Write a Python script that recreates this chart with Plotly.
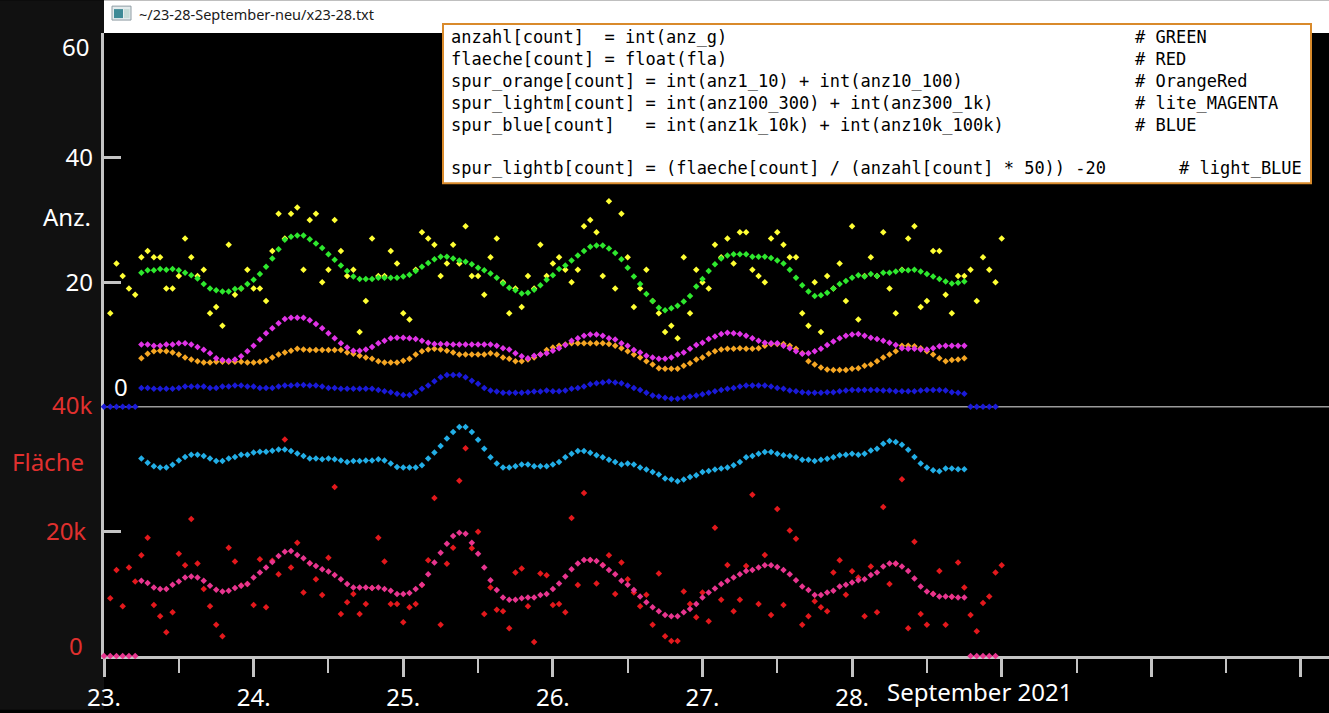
import pandas as pd
import plotly.graph_objects as go

# ---------------- data (hour index from 23.09.2021 00:00) ----------------
t0 = pd.Timestamp("2021-09-23 00:00")
raw_hours = list(range(1, 145))        # raw measurements
smooth_hours = list(range(6, 139))     # smoothed traces
padded_hours = list(range(0, 144))     # smoothed traces incl. zero padding

# raw number of events (yellow)
anz_raw = [15, 23, 21, 19, 18, 24, 25, 24, 24, 19,
           19, 21, 27, 24, 21, 22, 15, 16, 13, 26,
           18, 19, 22, 19, 19, 17, 25, 31, 27, 31,
           32, 22, 30, 31, 20, 22, 30, 25, 21, 22,
           12, 17, 27, 21, 21, 25, 23, 15, 14, 22,
           28, 27, 26, 21, 23, 26, 23, 29, 21, 21,
           18, 24, 27, 20, 15, 19, 16, 21, 19, 26,
           21, 23, 24, 22, 20, 22, 29, 30, 28, 21,
           33, 19, 31, 24, 16, 19, 22, 17, 15, 12,
           13, 11, 24, 15, 22, 20, 19, 26, 24, 27,
           23, 28, 28, 22, 21, 20, 27, 28, 26, 24,
           24, 15, 13, 20, 12, 21, 19, 23, 17, 29,
           14, 21, 24, 21, 28, 19, 15, 22, 27, 29,
           16, 17, 25, 25, 18, 15, 21, 21, 22, 17,
           24, 22, 20, 27]

# raw area in thousands (red)
flaeche_raw = [9.25, 13.82, 7.97, 14.19, 11.96, 16.16, 18.98, 8.19, 6.38, 3.83,
               7.02, 16.43, 14.57, 22.0, 14.83, 10.74, 7.97, 5.0, 3.19, 17.38,
               15.15, 11.3, 11.54, 8.19, 15.52, 7.81, 15.3, 13.13, 34.77, 14.19,
               18.18, 10.21, 14.9, 12.33, 9.78, 15.79, 27.11, 6.75, 8.61, 9.94,
               6.75, 8.35, 10.9, 18.98, 15.15, 8.35, 8.35, 5.42, 7.81, 8.35,
               11.4, 15.36, 25.36, 5.0, 14.8, 17.38, 28.12, 33.33, 17.28, 19.94,
               6.75, 11.0, 7.44, 7.18, 4.47, 13.4, 14.04, 7.97, 2.23, 13.24,
               12.97, 8.19, 8.35, 7.02, 22.17, 11.38, 26.16, 15.4, 11.64, 14.6,
               16.16, 9.94, 14.99, 12.33, 10.21, 7.97, 9.84, 5.0, 13.24, 3.19,
               2.39, 2.39, 10.37, 8.35, 6.22, 10.21, 5.58, 20.57, 9.04, 14.62,
               7.18, 9.04, 14.46, 25.89, 8.35, 16.21, 6.59, 23.6, 8.19, 20.15,
               18.82, 5.0, 6.38, 8.77, 7.81, 7.18, 13.4, 15.36, 9.84, 13.6,
               12.6, 6.38, 14.35, 7.02, 23.92, 11.54, 14.8, 28.39, 4.47, 18.34,
               6.75, 5.0, 10.0, 13.66, 5.0, 9.5, 14.99, 11.0, 6.59, 3.99,
               8.51, 9.57, 13.4, 14.57]

# smoothed count (green)
spur_green = [21.5, 21.9, 21.9, 22.1, 22.0, 22.1, 21.9, 21.5, 21.1, 20.6,
              19.7, 19.0, 18.7, 18.5, 18.5, 18.9, 19.0, 19.7, 20.4, 21.3,
              22.5, 23.8, 25.3, 26.8, 27.3, 27.5, 27.5, 26.9, 26.2, 25.5,
              24.5, 23.6, 22.7, 21.8, 20.9, 20.5, 20.5, 20.5, 20.7, 20.7,
              20.7, 20.7, 20.9, 21.2, 21.8, 22.5, 23.1, 23.7, 24.1, 24.1,
              23.8, 23.5, 23.3, 22.9, 22.3, 21.9, 21.4, 20.7, 19.8, 19.1,
              18.7, 18.2, 18.3, 18.8, 19.5, 20.4, 21.1, 22.1, 22.7, 23.5,
              24.3, 25.0, 25.7, 25.9, 25.9, 25.4, 24.7, 23.7, 22.3, 20.9,
              19.7, 18.1, 17.0, 15.9, 15.5, 15.8, 16.2, 16.9, 17.8, 19.3,
              20.5, 21.8, 22.9, 23.8, 24.3, 24.5, 24.5, 24.5, 24.1, 24.1,
              24.1, 23.9, 23.5, 23.0, 22.0, 20.7, 19.5, 18.5, 17.8, 17.9,
              18.3, 19.0, 19.7, 20.2, 20.7, 21.1, 20.9, 21.3, 21.0, 21.5,
              21.5, 21.7, 21.9, 21.9, 22.0, 21.7, 21.3, 20.9, 20.5, 20.1,
              19.8, 19.9, 20.1]

# spur_lightm (lite magenta)
spur_lightm = [10.0, 10.0, 9.8, 9.8, 10.0, 10.0, 10.2, 10.2, 10.0, 9.6,
               9.15, 8.6, 7.8, 7.5, 7.4, 7.6, 8.1, 8.9, 9.8, 10.8,
               11.8, 12.6, 13.4, 14.1, 14.3, 14.3, 14.3, 13.9, 13.3, 12.6,
               11.8, 11.0, 10.2, 9.5, 9.0, 9.0, 9.2, 9.6, 10.2, 10.6,
               11.0, 11.1, 11.1, 11.0, 10.9, 10.6, 10.3, 10.1, 10.1, 10.1,
               10.0, 10.0, 10.0, 10.0, 10.0, 10.0, 10.0, 9.8, 9.4, 9.2,
               8.6, 8.1, 7.8, 8.2, 8.4, 8.6, 9.0, 9.4, 9.9, 10.6,
               11.0, 11.4, 11.6, 11.6, 11.4, 11.0, 10.8, 10.2, 9.8, 9.1,
               8.7, 8.2, 7.9, 7.7, 7.7, 7.9, 8.4, 8.7, 9.3, 9.9,
               10.3, 10.9, 11.3, 11.7, 11.9, 11.8, 11.7, 11.4, 11.0, 10.6,
               10.3, 10.2, 10.2, 9.8, 9.4, 8.9, 8.5, 8.6, 8.9, 9.3,
               9.9, 10.5, 11.0, 11.4, 11.6, 11.7, 11.4, 11.1, 10.9, 10.6,
               10.3, 9.9, 9.4, 9.3, 9.3, 9.2, 9.2, 9.4, 9.7, 9.8,
               9.8, 9.8, 9.8]

# spur_orange
spur_orange = [7.8, 8.5, 8.9, 9.0, 8.9, 8.7, 8.4, 7.9, 7.6, 7.3,
               7.1, 7.1, 7.25, 7.25, 7.25, 7.25, 7.25, 7.1, 7.1, 7.25,
               7.4, 7.9, 8.4, 8.7, 9.0, 9.3, 9.2, 9.1, 9.1, 9.1,
               9.1, 9.1, 9.1, 8.7, 8.5, 8.2, 7.9, 7.7, 7.3, 7.1,
               7.1, 7.1, 7.4, 7.7, 8.4, 8.9, 9.2, 9.3, 9.2, 9.0,
               8.7, 8.4, 8.4, 8.4, 8.4, 8.4, 8.6, 8.4, 7.9, 7.7,
               7.3, 7.3, 7.6, 7.9, 8.4, 9.1, 9.5, 9.8, 10.0, 10.2,
               10.2, 10.2, 10.2, 10.2, 10.2, 10.1, 9.8, 9.4, 8.9, 8.4,
               7.9, 7.3, 6.8, 6.2, 6.1, 6.1, 6.1, 6.6, 7.0, 7.6,
               7.9, 8.5, 8.9, 9.2, 9.3, 9.3, 9.4, 9.3, 9.3, 9.4,
               9.8, 10.1, 10.1, 10.1, 9.8, 9.3, 8.6, 7.3, 6.8, 6.3,
               6.0, 5.9, 5.9, 5.9, 6.1, 6.2, 6.6, 6.8, 7.3, 7.9,
               8.4, 8.9, 9.8, 9.8, 9.7, 9.4, 8.9, 8.4, 7.8, 7.3,
               7.5, 7.6, 7.8]

# spur_blue (with zero padding at both ends)
spur_blue = [0, 0, 0, 0, 0, 0,
             3.0, 3.0, 2.9, 2.9, 2.9, 2.9, 3.0, 3.25, 3.25, 3.25,
             3.25, 3.0, 3.0, 3.25, 3.25, 3.4, 3.4, 3.25, 3.25, 3.0,
             3.0, 3.0, 3.25, 3.4, 3.4, 3.5, 3.5, 3.4, 3.4, 3.25,
             3.0, 3.0, 2.9, 2.9, 2.9, 2.9, 2.9, 2.9, 2.7, 2.5,
             2.35, 2.1, 1.9, 1.9, 2.35, 2.9, 3.4, 4.1, 4.75, 5.1,
             5.1, 5.1, 4.75, 4.2, 3.7, 3.0, 2.6, 2.45, 2.25, 2.25,
             2.25, 2.25, 2.35, 2.45, 2.45, 2.6, 2.5, 2.5, 2.6, 2.9,
             3.0, 3.25, 3.6, 3.8, 3.9, 4.05, 3.9, 3.8, 3.4, 3.0,
             2.7, 2.25, 1.8, 1.65, 1.45, 1.3, 1.3, 1.45, 1.65, 1.8,
             2.0, 2.25, 2.5, 2.7, 2.9, 3.0, 3.25, 3.4, 3.4, 3.4,
             3.4, 3.25, 3.0, 2.9, 2.6, 2.5, 2.35, 2.25, 2.25, 2.25,
             2.35, 2.35, 2.5, 2.6, 2.7, 2.7, 2.7, 2.7, 2.7, 2.6,
             2.6, 2.5, 2.5, 2.5, 2.5, 2.6, 2.7, 2.7, 2.7, 2.6,
             2.35, 2.25, 2.1,
             0, 0, 0, 0, 0]

# spur_lightb (light blue, on the count axis)
spur_lightb = [-8.3, -9.0, -9.55, -9.75, -9.75, -9.3, -8.6, -8.05, -7.7, -7.7,
               -7.9, -8.3, -8.7, -8.7, -8.3, -8.05, -7.7, -7.7, -7.35, -7.2,
               -7.2, -7.05, -6.85, -6.85, -7.1, -7.5, -7.9, -8.3, -8.3, -8.4,
               -8.3, -8.4, -8.6, -8.85, -8.7, -8.7, -8.6, -8.6, -8.4, -8.6,
               -9.1, -9.65, -9.75, -9.75, -9.75, -9.4, -8.3, -7.35, -6.3, -5.1,
               -4.05, -3.25, -3.25, -4.05, -5.28, -6.72, -8.1, -9.12, -9.76, -9.76,
               -9.55, -9.28, -9.28, -9.55, -9.55, -9.55, -9.28, -8.85, -8.1, -7.52,
               -7.09, -7.09, -7.36, -7.79, -8.1, -8.48, -8.85, -9.28, -9.12, -9.28,
               -9.76, -10.08, -10.45, -10.88, -11.52, -11.68, -11.95, -11.68, -11.25, -10.99,
               -10.45, -10.29, -10.08, -9.92, -9.76, -9.39, -8.85, -8.1, -7.89, -7.52,
               -7.25, -7.25, -7.52, -7.79, -7.89, -8.1, -8.48, -8.48, -8.69, -8.48,
               -8.32, -8.1, -7.79, -7.68, -7.52, -7.68, -7.52, -7.0, -6.72, -5.92,
               -5.49, -5.65, -6.08, -6.88, -8.05, -9.12, -9.76, -10.19, -10.35, -9.92,
               -9.92, -10.03, -10.03]

# smoothed area in thousands (pink, with zero padding at both ends)
flaeche_smooth = [0, 0, 0, 0, 0, 0,
                  12.07, 11.7, 11.0, 10.74, 10.74, 11.43, 11.96, 12.6, 12.76, 12.6,
                  12.07, 11.27, 10.63, 10.37, 10.47, 10.9, 11.27, 11.54, 12.6, 13.4,
                  14.2, 15.1, 16.06, 16.75, 16.85, 16.2, 15.7, 14.9, 14.46, 13.93,
                  13.56, 13.02, 12.33, 11.54, 11.0, 11.0, 11.0, 10.9, 11.0, 10.74,
                  10.47, 9.94, 9.94, 10.1, 10.74, 11.43, 13.13, 14.99, 16.59, 18.0,
                  19.25, 19.78, 19.62, 18.18, 16.43, 14.19, 12.17, 10.58, 9.41, 9.04,
                  9.04, 9.25, 9.41, 9.41, 9.78, 9.94, 10.74, 11.64, 12.76, 13.93,
                  14.83, 15.42, 15.42, 15.26, 14.57, 13.82, 13.13, 12.07, 11.43, 10.58,
                  9.57, 8.61, 7.81, 7.18, 6.59, 6.38, 6.38, 7.02, 7.55, 8.35,
                  9.41, 10.21, 10.85, 11.54, 12.07, 12.6, 13.13, 13.66, 13.82, 14.19,
                  14.57, 14.57, 14.3, 13.82, 13.13, 12.17, 11.16, 10.58, 9.78, 9.78,
                  10.21, 10.47, 11.16, 11.43, 11.8, 12.15, 12.33, 13.02, 13.4, 14.35,
                  14.83, 14.83, 14.35, 13.66, 12.44, 11.16, 10.37, 9.94, 9.57, 9.57,
                  9.52, 9.41, 9.41,
                  0, 0, 0, 0, 0]

day_ticks = ["2021-09-23", "2021-09-24", "2021-09-25", "2021-09-26", "2021-09-27",
             "2021-09-28", "2021-09-29", "2021-09-30", "2021-10-01"]
day_labels = ["23.", "24.", "25.", "26.", "27.", "28.", "", "", ""]
noon_ticks = ["2021-09-23 12:00", "2021-09-24 12:00", "2021-09-25 12:00",
              "2021-09-26 12:00", "2021-09-27 12:00", "2021-09-28 12:00",
              "2021-09-29 12:00", "2021-09-30 12:00"]

code_lines = [
    ("anzahl[count]  = int(anz_g)", "# GREEN"),
    ("flaeche[count] = float(fla)", "# RED"),
    ("spur_orange[count] = int(anz1_10) + int(anz10_100)", "# OrangeRed"),
    ("spur_lightm[count] = int(anz100_300) + int(anz300_1k)", "# lite_MAGENTA"),
    ("spur_blue[count]   = int(anz1k_10k) + int(anz10k_100k)", "# BLUE"),
    ("spur_lightb[count] = (flaeche[count] / (anzahl[count] * 50)) -20", "# light_BLUE"),
]

# ---------------- helpers ----------------
def tx(hours):
    return [t0 + pd.Timedelta(hours=h) for h in hours]

W, H = 1329, 713
ML, MT, MB = 104, 33, 54
PW, PH = W - ML, H - MT - MB

def px_x(px):
    return (px - ML) / PW

def px_y(py):
    return (H - MB - py) / PH

GRAY = "#c4c4c4"
RED_TXT = "#e0302e"
MS = 5

fig = go.Figure()

def add(xh, yv, color, yaxis, clip=True):
    fig.add_trace(go.Scatter(
        x=tx(xh), y=yv, mode="markers", yaxis=yaxis, cliponaxis=clip,
        marker=dict(symbol="diamond", size=MS, color=color, line=dict(width=0)),
        hoverinfo="skip"))

add(raw_hours, anz_raw, "#ffff33", "y2")
add(smooth_hours, spur_green, "#2ee82e", "y2")
add(smooth_hours, spur_orange, "#f5a623", "y2")
add(smooth_hours, spur_lightm, "#e033e6", "y2")
add(padded_hours, spur_blue, "#1a1ad8", "y2", clip=False)
add(raw_hours, flaeche_raw, "#e3181c", "y")
add(padded_hours, flaeche_smooth, "#e8358f", "y", clip=False)
add(smooth_hours, spur_lightb, "#22aee6", "y2")

fig.update_layout(
    width=W, height=H,
    margin=dict(l=ML, r=0, t=MT, b=MB, pad=0),
    paper_bgcolor="black", plot_bgcolor="black",
    showlegend=False,
    font=dict(family="Noto Sans", color="white"),
    xaxis=dict(
        type="date",
        range=[t0, t0 + pd.Timedelta(hours=196.5)],
        tickmode="array", tickvals=day_ticks, ticktext=day_labels,
        ticks="outside", ticklen=18, tickwidth=3, tickcolor=GRAY,
        showline=True, linecolor=GRAY, linewidth=3,
        showgrid=False, zeroline=False,
        tickfont=dict(size=24, color="white"),
        minor=dict(tickmode="array", tickvals=noon_ticks, ticks="outside",
                   ticklen=14, tickwidth=1.5, tickcolor=GRAY, showgrid=False),
        layer="below traces", fixedrange=True,
    ),
    yaxis=dict(
        range=[0, 100], tickmode="array", tickvals=[20], ticktext=["20k"],
        ticks="inside", ticklen=17, tickwidth=3, tickcolor=GRAY,
        showline=True, linecolor=GRAY, linewidth=3,
        showgrid=False, zeroline=False,
        tickfont=dict(size=24, color=RED_TXT),
        ticklabelstandoff=10,
        layer="below traces",
    ),
    yaxis2=dict(
        range=[-40, 60], overlaying="y", side="left",
        tickmode="array", tickvals=[20, 40],
        ticks="inside", ticklen=17, tickwidth=3, tickcolor=GRAY,
        showline=False, showgrid=False, zeroline=False,
        tickfont=dict(size=24, color="white"),
        ticklabelstandoff=10,
        layer="below traces",
    ),
)

shapes = []
# dark left strip
shapes.append(dict(type="rect", xref="paper", yref="paper",
                   x0=px_x(0), x1=0, y0=px_y(H), y1=px_y(0),
                   fillcolor="#111111", line=dict(width=0), layer="below"))
# separator line at count 0 / area 40k
shapes.append(dict(type="line", xref="paper", yref="y2", x0=0, x1=1, y0=0, y1=0,
                   line=dict(color="#9a9a9a", width=1.5), layer="below"))
# window title bar
shapes.append(dict(type="rect", xref="paper", yref="paper",
                   x0=0, x1=1, y0=1, y1=px_y(0),
                   fillcolor="white", line=dict(width=0), layer="above"))
# title bar icon
shapes.append(dict(type="rect", xref="paper", yref="paper",
                   x0=px_x(112), x1=px_x(131), y0=px_y(20), y1=px_y(6),
                   fillcolor="#e4ecee", line=dict(color="#8f9ca3", width=1), layer="above"))
shapes.append(dict(type="rect", xref="paper", yref="paper",
                   x0=px_x(114), x1=px_x(123), y0=px_y(18), y1=px_y(9),
                   fillcolor="#3d8a96", line=dict(width=0), layer="above"))
shapes.append(dict(type="rect", xref="paper", yref="paper",
                   x0=px_x(124), x1=px_x(129.5), y0=px_y(18), y1=px_y(9),
                   fillcolor="#c6dcd8", line=dict(width=0), layer="above"))
# code box
shapes.append(dict(type="rect", xref="paper", yref="paper",
                   x0=px_x(443), x1=px_x(1311), y0=px_y(184), y1=px_y(24),
                   fillcolor="white", line=dict(color="#d98a2b", width=2), layer="above"))
fig.update_layout(shapes=shapes)

ann = []
def note(text, x, y, xref="paper", yref="paper", size=24, color="white",
         xanchor="right", family="Noto Sans"):
    ann.append(dict(text=text, x=x, y=y, xref=xref, yref=yref, showarrow=False,
                    xanchor=xanchor, yanchor="middle",
                    font=dict(size=size, color=color, family=family)))

note("60", px_x(91), 57.8, yref="y2")
note("Anz.", px_x(93), 30.6, yref="y2")
note("0", px_x(121), 3.2, yref="y2", xanchor="center")
note("40k", px_x(94), 40.3, yref="y", color=RED_TXT)
note("Fläche", px_x(86), 31.3, yref="y", color=RED_TXT)
note("0", px_x(85), 1.75, yref="y", color=RED_TXT)
note("September 2021", px_x(885), px_y(695), xanchor="left")
note("~/23-28-September-neu/x23-28.txt", px_x(137), px_y(14), size=14.5,
     color="#1a1a1a", xanchor="left")

NB = "\u00a0"
line_y = [37, 59, 81, 103, 125, 169]
for (code, comment), ly in zip(code_lines, line_y):
    note(code.replace(" ", NB), px_x(449), px_y(ly), size=17, color="black",
         xanchor="left", family="DejaVu Sans Mono")
    cx = 1177 if comment == "# light_BLUE" else 1133
    note(comment.replace(" ", NB), px_x(cx), px_y(ly), size=17, color="black",
         xanchor="left", family="DejaVu Sans Mono")
fig.update_layout(annotations=ann)

fig.write_html(
    "out.html",
    config={"displayModeBar": False},
    post_script="document.body.style.margin='0';document.body.style.padding='0';"
                "document.body.style.overflow='hidden';",
)
